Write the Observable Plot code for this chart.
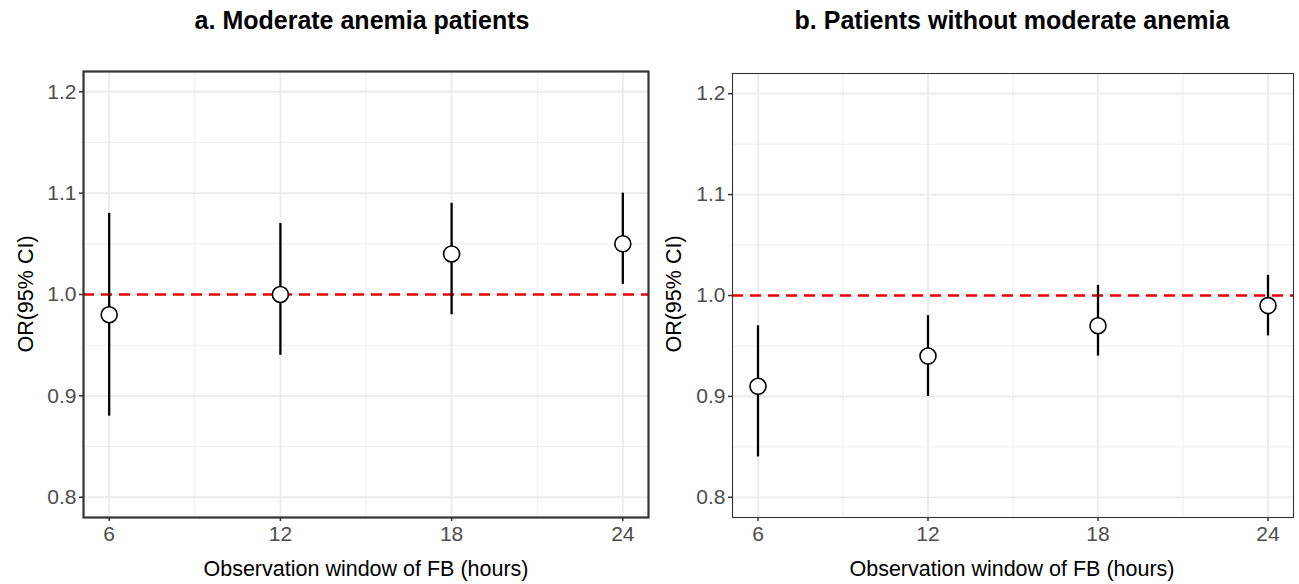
<!DOCTYPE html>
<html>
<head>
<meta charset="utf-8">
<script src="https://cdn.jsdelivr.net/npm/d3@7"></script>
<script src="https://cdn.jsdelivr.net/npm/@observablehq/plot@0.6"></script>
<style>
  html, body { margin: 0; padding: 0; background: #fff; }
  #wrap { position: relative; width: 1299px; height: 584px; font-family: "Liberation Sans", Arial, sans-serif; }
  .title { position: absolute; top: 6px; font-weight: bold; font-size: 25px; color: #000; text-align: center; white-space: nowrap; }
  .xlab { position: absolute; top: 557px; font-size: 21.5px; color: #000; text-align: center; white-space: nowrap; }
  .ylab { position: absolute; font-size: 21.5px; color: #000; white-space: nowrap; transform: translate(-50%, -50%) rotate(-90deg); }
  .panel { position: absolute; top: 50px; }
</style>
</head>
<body>
<div id="wrap"></div>
<script>
// ---- data ----
const hours = [6, 12, 18, 24];
const orA = [0.98, 1.00, 1.04, 1.05];
const lowA = [0.88, 0.94, 0.98, 1.01];
const highA = [1.08, 1.07, 1.09, 1.10];
const orB = [0.91, 0.94, 0.97, 0.99];
const lowB = [0.84, 0.90, 0.94, 0.96];
const highB = [0.97, 0.98, 1.01, 1.02];
const titles = ["a. Moderate anemia patients", "b. Patients without moderate anemia"];
const xTicks = [6, 12, 18, 24];
const xMinor = [9, 15, 21];
const yTicks = [0.8, 0.9, 1.0, 1.1, 1.2];
const yMinor = [0.85, 0.95, 1.05, 1.15];
const xLabel = "Observation window of FB (hours)";
const yLabel = "OR(95% CI)";
const refLine = 1.0;

function rows(or, lo, hi) {
  return hours.map((h, i) => ({h, or: or[i], lo: lo[i], hi: hi[i]}));
}

function panel(data, opts) {
  return Plot.plot({
    width: opts.width,
    height: 534,
    marginLeft: opts.ml,
    marginRight: opts.mr,
    marginTop: opts.mt,
    marginBottom: 67,
    style: {fontFamily: "'Liberation Sans', Arial, sans-serif", fontSize: "21px", background: "#fff", overflow: "visible"},
    x: {domain: [5.1, 24.9], label: null},
    y: {domain: [0.78, 1.22], label: null},
    marks: [
      Plot.gridX(xMinor, {stroke: "#ebebeb", strokeOpacity: 1, strokeWidth: 0.9}),
      Plot.gridY(yMinor, {stroke: "#ebebeb", strokeOpacity: 1, strokeWidth: 0.9}),
      Plot.gridX(xTicks, {stroke: "#ebebeb", strokeOpacity: 1, strokeWidth: 1.8}),
      Plot.gridY(yTicks, {stroke: "#ebebeb", strokeOpacity: 1, strokeWidth: 1.8}),
      Plot.ruleY([refLine], {stroke: "#ee0000", strokeWidth: 2.3, strokeDasharray: "11,7"}),
      Plot.ruleX(data, {x: "h", y1: "lo", y2: "hi", stroke: "#000", strokeWidth: 2.3}),
      Plot.dot(data, {x: "h", y: "or", r: 8, fill: "#fff", stroke: "#000", strokeWidth: 1.6}),
      Plot.frame({stroke: "#333", strokeWidth: opts.frameW}),
      Plot.axisX(xTicks, {tickSize: 4, tickPadding: 5, stroke: "#333", strokeWidth: 1.5, color: "#4d4d4d", fontSize: 21, label: null}),
      Plot.axisY(yTicks, {tickSize: 4, tickPadding: 3, stroke: "#333", strokeWidth: 1.5, color: "#4d4d4d", fontSize: 21, tickFormat: d3.format(".1f"), label: null})
    ]
  });
}

const wrap = document.getElementById("wrap");

const pa = panel(rows(orA, lowA, highA), {width: 660, ml: 83, mr: 12, mt: 21, frameW: 2.2});
pa.classList.add("panel"); pa.style.left = "0px";
wrap.appendChild(pa);

const pb = panel(rows(orB, lowB, highB), {width: 649, ml: 82, mr: 6, mt: 23, frameW: 1.1});
pb.classList.add("panel"); pb.style.left = "650px";
wrap.appendChild(pb);

function addText(cls, text, css) {
  const d = document.createElement("div");
  d.className = cls;
  d.textContent = text;
  Object.assign(d.style, css);
  wrap.appendChild(d);
  return d;
}
// titles centered on panels
addText("title", titles[0], {left: "362px", transform: "translateX(-50%)"});
addText("title", titles[1], {left: "1012px", transform: "translateX(-50%)"});
addText("xlab", xLabel, {left: "366px", transform: "translateX(-50%)"});
addText("xlab", xLabel, {left: "1012px", transform: "translateX(-50%)"});
addText("ylab", yLabel, {left: "26px", top: "294px"});
addText("ylab", yLabel, {left: "674px", top: "294px"});
</script>
</body>
</html>
